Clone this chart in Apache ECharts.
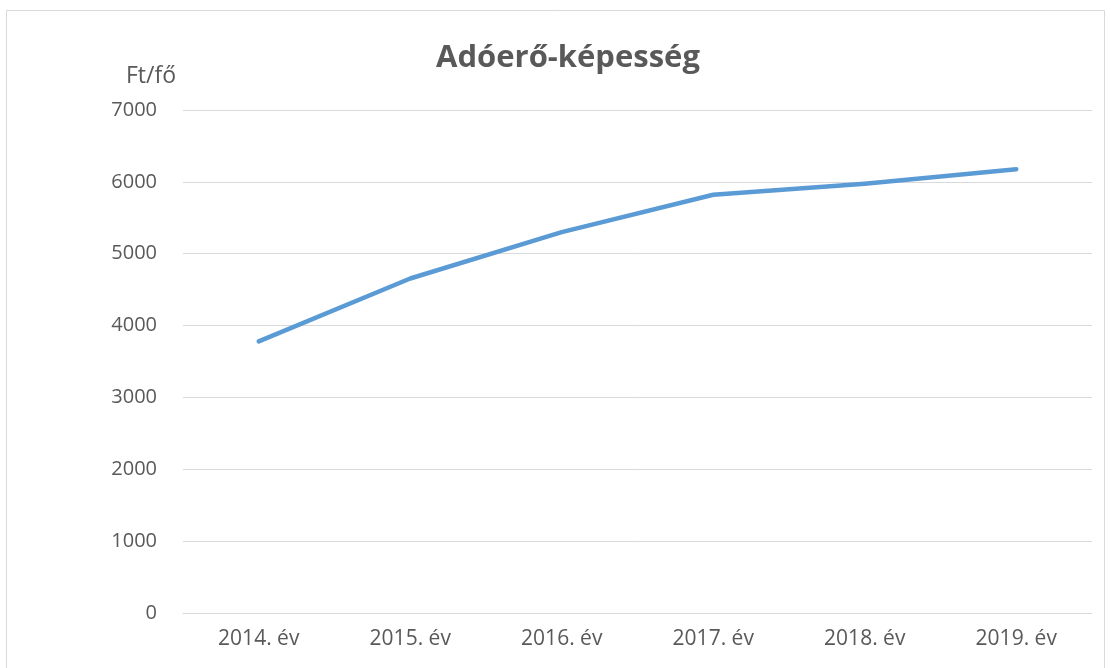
<!DOCTYPE html>
<html>
<head>
<meta charset="utf-8">
<script src="https://cdn.jsdelivr.net/npm/echarts@6/dist/echarts.min.js"></script>
<style>
  html, body { margin: 0; padding: 0; background: #fff; }
  #chart { width: 1111px; height: 668px; }
</style>
</head>
<body>
<div id="chart"></div>
<script>
// évek
const years = ['2014. év', '2015. év', '2016. év', '2017. év', '2018. év', '2019. év'];
// adóerő-képesség, Ft/fő
const values = [3780, 4655, 5300, 5820, 5975, 6175];
const yTicks = { min: 0, max: 7000, step: 1000 };

const font = '"Open Sans", "Liberation Sans", sans-serif';
const textColor = '#595959';

const chart = echarts.init(document.getElementById('chart'));
const option = {
  backgroundColor: '#fff',
  animation: false,
  title: {
    text: 'Adóerő-képesség',
    left: 563,
    textAlign: 'center',
    top: 38,
    textStyle: { fontFamily: font, fontSize: 31, fontWeight: 'bold', color: textColor }
  },
  graphic: [{
    type: 'rect',
    shape: { x: 6.5, y: 10.5, width: 1098, height: 700 },
    style: { fill: null, stroke: '#d9d9d9', lineWidth: 1 },
    silent: true
  }],
  grid: { left: 183, right: 19, top: 110, bottom: 55 },
  xAxis: {
    type: 'category',
    data: years,
    boundaryGap: true,
    axisLine: { show: true, lineStyle: { color: '#d9d9d9', width: 1 } },
    axisTick: { show: false },
    axisLabel: { color: textColor, fontFamily: font, fontSize: 21, margin: 16 }
  },
  yAxis: {
    type: 'value',
    min: yTicks.min,
    max: yTicks.max,
    interval: yTicks.step,
    name: 'Ft/fő',
    nameLocation: 'end',
    nameGap: 22,
    nameTextStyle: { color: textColor, fontFamily: font, fontSize: 23, align: 'right', padding: [0, 7, 0, 0] },
    axisLine: { show: false },
    axisTick: { show: false },
    axisLabel: { color: textColor, fontFamily: font, fontSize: 20, margin: 26, formatter: v => String(v) },
    splitLine: { lineStyle: { color: '#d9d9d9', width: 1 } }
  },
  series: [{
    type: 'line',
    data: values,
    symbol: 'none',
    lineStyle: { color: '#5b9bd5', width: 4.5, cap: 'round', join: 'round' }
  }]
};
chart.setOption(option);
</script>
</body>
</html>
